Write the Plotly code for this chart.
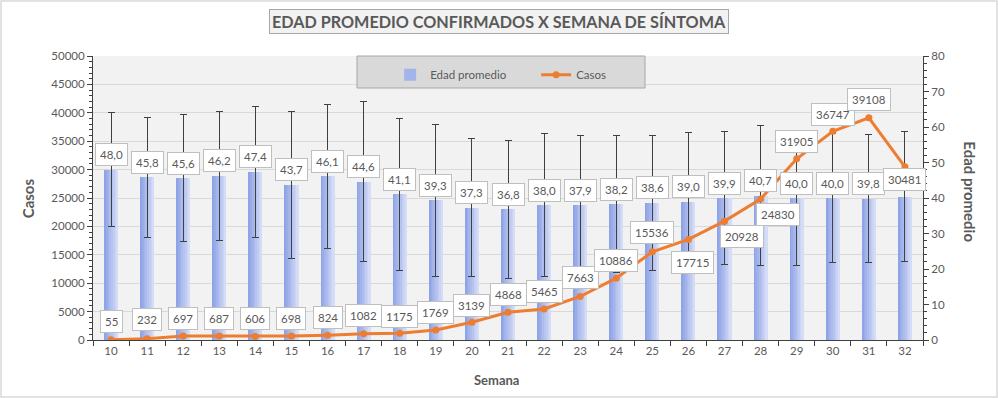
import plotly.graph_objects as go

# ---------------- data ----------------
semanas = ["10", "11", "12", "13", "14", "15", "16", "17", "18", "19", "20", "21",
           "22", "23", "24", "25", "26", "27", "28", "29", "30", "31", "32"]
casos = [55, 232, 697, 687, 606, 698, 824, 1082, 1175, 1769, 3139, 4868,
         5465, 7663, 10886, 15536, 17715, 20928, 24830, 31905, 36747, 39108, 30481]
edad_promedio = [48.0, 45.8, 45.6, 46.2, 47.4, 43.7, 46.1, 44.6, 41.1, 39.3, 37.3, 36.8,
                 38.0, 37.9, 38.2, 38.6, 39.0, 39.9, 40.7, 40.0, 40.0, 39.8, 40.3]
edad_desv = [16.0, 17.0, 17.8, 18.3, 18.5, 20.7, 20.2, 22.6, 21.4, 21.3, 19.4, 19.5,
             20.2, 19.6, 19.3, 19.1, 19.5, 18.7, 19.6, 18.9, 18.2, 18.1, 18.3]
casos_ticks = [0, 5000, 10000, 15000, 20000, 25000, 30000, 35000, 40000, 45000, 50000]
edad_ticks = [0, 10, 20, 30, 40, 50, 60, 70, 80]

# label offsets (pixels) for the "Casos" data labels
casos_lbl_off = [(0, -18), (0, -19), (0, -18), (0, -18), (0, -18), (0, -18), (0, -18),
                 (0, -18), (0, -17), (0, -17), (0, -17), (0, -18), (0, -17), (0, -19),
                 (0, -18), (0, -19), (4, 23), (17, 15), (17, 16), (0, -17), (0, -17),
                 (0, -18), (0, 13)]
# the age label of the last week is hidden behind the "Casos" label in the reference
edad_lbl_visible = [True] * 22 + [False]

GRAY = "#595959"
FONT = "Lato"
BAR_W = 0.39
N_STRIPS = 8
C_LEFT = (0x8E, 0xA4, 0xE6)
C_RIGHT = (0xD4, 0xDC, 0xF6)

fig = go.Figure()

# gradient bars built from vertical strips
for i in range(N_STRIPS):
    t = i / (N_STRIPS - 1)
    col = "rgb(%d,%d,%d)" % tuple(round(a + (b - a) * t) for a, b in zip(C_LEFT, C_RIGHT))
    sw = BAR_W / N_STRIPS
    w = sw * (1.5 if i < N_STRIPS - 1 else 1.0)
    fig.add_trace(go.Bar(
        x=semanas, y=edad_promedio, yaxis="y",
        width=w, offset=-BAR_W / 2 + i * sw,
        marker=dict(color=col, line=dict(width=0)),
        name="Edad promedio", showlegend=(i == 2), legendrank=1,
        hoverinfo="skip",
    ))

# error bars (std. deviation) on a transparent bar
fig.add_trace(go.Bar(
    x=semanas, y=edad_promedio, yaxis="y", width=BAR_W,
    marker=dict(color="rgba(0,0,0,0)", line=dict(width=0)),
    error_y=dict(type="data", array=edad_desv, visible=True, color="#404040",
                 thickness=1, width=3.5),
    showlegend=False, hoverinfo="skip",
))

# line
fig.add_trace(go.Scatter(
    x=semanas, y=casos, yaxis="y2", mode="lines+markers", name="Casos",
    line=dict(color="#ED7D31", width=3),
    marker=dict(color="#ED7D31", size=7),
    legendrank=2,
))

LBL = dict(showarrow=True, arrowcolor="rgba(0,0,0,0)",
           font=dict(family=FONT, size=11.5, color=GRAY),
           bgcolor="white", bordercolor="#BFBFBF", borderwidth=1, borderpad=4)

annotations = []
# age labels (x given as category index)
for i, (v, vis) in enumerate(zip(edad_promedio, edad_lbl_visible)):
    if vis:
        annotations.append(dict(x=i, y=v, xref="x", yref="y",
                                text=f"{v:.1f}".replace(".", ","), ax=0, ay=-15, **LBL))
# casos labels
for i, (v, (dx, dy)) in enumerate(zip(casos, casos_lbl_off)):
    annotations.append(dict(x=i, y=v, xref="x", yref="y2",
                            text=str(v), ax=dx, ay=dy, **LBL))

# title box
annotations.append(dict(
    x=0.4892, y=1.123, xref="paper", yref="paper", showarrow=False,
    xanchor="center", yanchor="middle",
    text="<b>EDAD PROMEDIO CONFIRMADOS X SEMANA DE SÍNTOMA</b>",
    font=dict(family=FONT, size=16.2, color=GRAY),
    bgcolor="#F2F2F2", bordercolor="#A6A6A6", borderwidth=1, borderpad=2,
))
# axis titles
annotations.append(dict(
    x=-0.078, y=0.5, xref="paper", yref="paper", showarrow=False,
    xanchor="center", yanchor="middle",
    text="<b>Casos</b>", textangle=-90,
    font=dict(family=FONT, size=15, color=GRAY),
))
annotations.append(dict(
    x=1.0566, y=0.52, xref="paper", yref="paper", showarrow=False,
    xanchor="center", yanchor="middle",
    text="<b>Edad promedio</b>", textangle=90,
    font=dict(family=FONT, size=15, color=GRAY),
))
annotations.append(dict(
    x=0.486, y=-0.141, xref="paper", yref="paper", showarrow=False,
    xanchor="center", yanchor="middle",
    text="<b>Semana</b>",
    font=dict(family=FONT, size=13, color=GRAY),
))

shapes = [
    # outer chart border
    dict(type="rect", xref="paper", yref="paper",
         x0=-92 / 830, x1=904 / 830, y0=-57 / 284, y1=339 / 284,
         line=dict(color="#D9D9D9", width=1.5), fillcolor="rgba(0,0,0,0)", layer="below"),
    # legend box
    dict(type="rect", xref="paper", yref="paper",
         x0=264 / 830, x1=552 / 830, y0=252 / 284, y1=1.0,
         line=dict(color="#A6A6A6", width=1), fillcolor="#D9D9D9", layer="above"),
]

fig.update_layout(
    width=998, height=398,
    margin=dict(l=93, r=75, t=56, b=58),
    paper_bgcolor="white", plot_bgcolor="#F2F2F2",
    barmode="overlay", bargap=0,
    font=dict(family=FONT, size=11, color=GRAY),
    showlegend=True,
    legend=dict(orientation="h", x=0.358, y=0.985, xanchor="left", yanchor="top",
                bgcolor="rgba(0,0,0,0)", borderwidth=0,
                font=dict(family=FONT, size=11.5, color=GRAY),
                entrywidth=101, entrywidthmode="pixels", itemwidth=30),
    xaxis=dict(type="category", range=[-0.5, 22.5], tickson="boundaries",
               ticks="outside", ticklen=5, tickcolor="#404040",
               showline=True, linecolor="#404040", linewidth=1,
               showgrid=False, tickfont=dict(family=FONT, size=11.5, color=GRAY)),
    yaxis=dict(side="right", range=[0, 80], tickvals=edad_ticks,
               ticks="outside", ticklen=5, tickcolor="#404040",
               minor=dict(ticks="outside", dtick=2, ticklen=3, tickcolor="#404040"),
               showline=True, linecolor="#404040", linewidth=1,
               showgrid=False, zeroline=False,
               tickfont=dict(family=FONT, size=11.5, color=GRAY)),
    yaxis2=dict(side="left", overlaying="y", range=[0, 50000], tickvals=casos_ticks,
                tickformat="d", ticks="outside", ticklen=5, tickcolor="#404040",
                minor=dict(ticks="outside", dtick=1000, ticklen=3, tickcolor="#404040"),
                showline=True, linecolor="#404040", linewidth=1,
                showgrid=True, gridcolor="#D9D9D9", gridwidth=1, zeroline=False,
                tickfont=dict(family=FONT, size=11.5, color=GRAY)),
    annotations=annotations,
    shapes=shapes,
)

fig.write_html("out.html", config={"displayModeBar": False},
               post_script="document.body.style.margin='0';")
